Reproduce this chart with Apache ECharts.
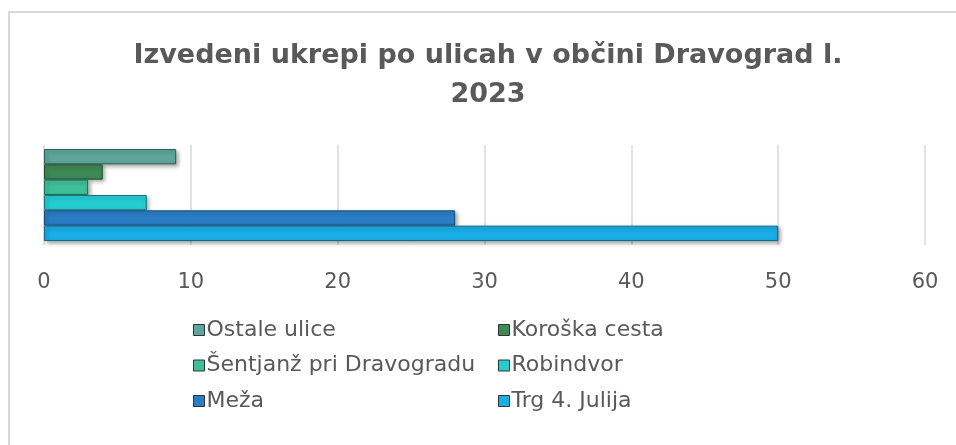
<!DOCTYPE html>
<html>
<head>
<meta charset="utf-8">
<script src="https://cdn.jsdelivr.net/npm/echarts@6/dist/echarts.min.js"></script>
<style>
  html, body { margin: 0; padding: 0; background: #fff; overflow: hidden; }
  #frame { position: absolute; left: 8px; top: 11px; width: 1000px; height: 500px; border: 2px solid #d9d9d9; }
  #chart { position: absolute; left: 0; top: 0; width: 956px; height: 445px; }
</style>
</head>
<body>
<div id="frame"></div>
<div id="chart"></div>
<script>
  // podatki
  const titleText = 'Izvedeni ukrepi po ulicah v občini Dravograd l.\n2023';
  const seriesNames = ['Ostale ulice', 'Koroška cesta', 'Šentjanž pri Dravogradu', 'Robindvor', 'Meža', 'Trg 4. Julija'];
  const seriesValues = [9, 4, 3, 7, 28, 50];
  const seriesColors = ['#5fa59b', '#3d8a55', '#3fbf98', '#25cdd3', '#2a7dc5', '#1aade6'];
  const seriesBorders = ['#2f5f58', '#1f4d2e', '#237058', '#14777b', '#174a78', '#0f6a8e'];
  const xTicks = [0, 10, 20, 30, 40, 50, 60];

  const font = '"DejaVu Sans", sans-serif';
  const textColor = '#595959';

  const chart = echarts.init(document.getElementById('chart'));

  const series = seriesNames.map((name, i) => ({
    name: name,
    type: 'bar',
    data: [seriesValues[i]],
    barGap: '0%',
    barCategoryGap: '8%',
    itemStyle: {
      color: seriesColors[i],
      borderColor: seriesBorders[i],
      borderWidth: 1,
      shadowColor: 'rgba(0,0,0,0.35)',
      shadowBlur: 4,
      shadowOffsetX: 2,
      shadowOffsetY: 2
    }
  }));

  const legendStyle = {
    orient: 'vertical',
    itemWidth: 11,
    itemHeight: 11,
    itemGap: 13.5,
    icon: 'rect',
    textStyle: { fontFamily: font, fontSize: 22, lineHeight: 22, color: textColor, padding: [0, 0, 0, -3] },
    itemStyle: { borderColor: '#333', borderWidth: 1, shadowBlur: 0, shadowOffsetX: 0, shadowOffsetY: 0 }
  };

  const option = {
    animation: false,
    title: {
      text: titleText,
      left: 483,
      top: 31,
      textAlign: 'center',
      textStyle: { fontFamily: font, fontSize: 27, fontWeight: 'bold', color: textColor, lineHeight: 39 }
    },
    legend: [
      Object.assign({ left: 188, top: 314, data: [seriesNames[0], seriesNames[2], seriesNames[4]] }, legendStyle),
      Object.assign({ left: 493, top: 314, data: [seriesNames[1], seriesNames[3], seriesNames[5]] }, legendStyle)
    ],
    grid: { left: 44, right: 31, top: 145, height: 100, containLabel: false },
    xAxis: {
      type: 'value',
      min: xTicks[0],
      max: xTicks[xTicks.length - 1],
      interval: 10,
      axisLine: { show: false },
      axisTick: { show: false },
      axisLabel: { fontFamily: font, fontSize: 21, color: textColor, margin: 27 },
      splitLine: { lineStyle: { color: '#d9d9d9', width: 1.5 } }
    },
    yAxis: {
      type: 'category',
      data: [''],
      inverse: true,
      axisLine: { show: false },
      axisTick: { show: false },
      axisLabel: { show: false }
    },
    series: series
  };

  chart.setOption(option);
</script>
</body>
</html>
